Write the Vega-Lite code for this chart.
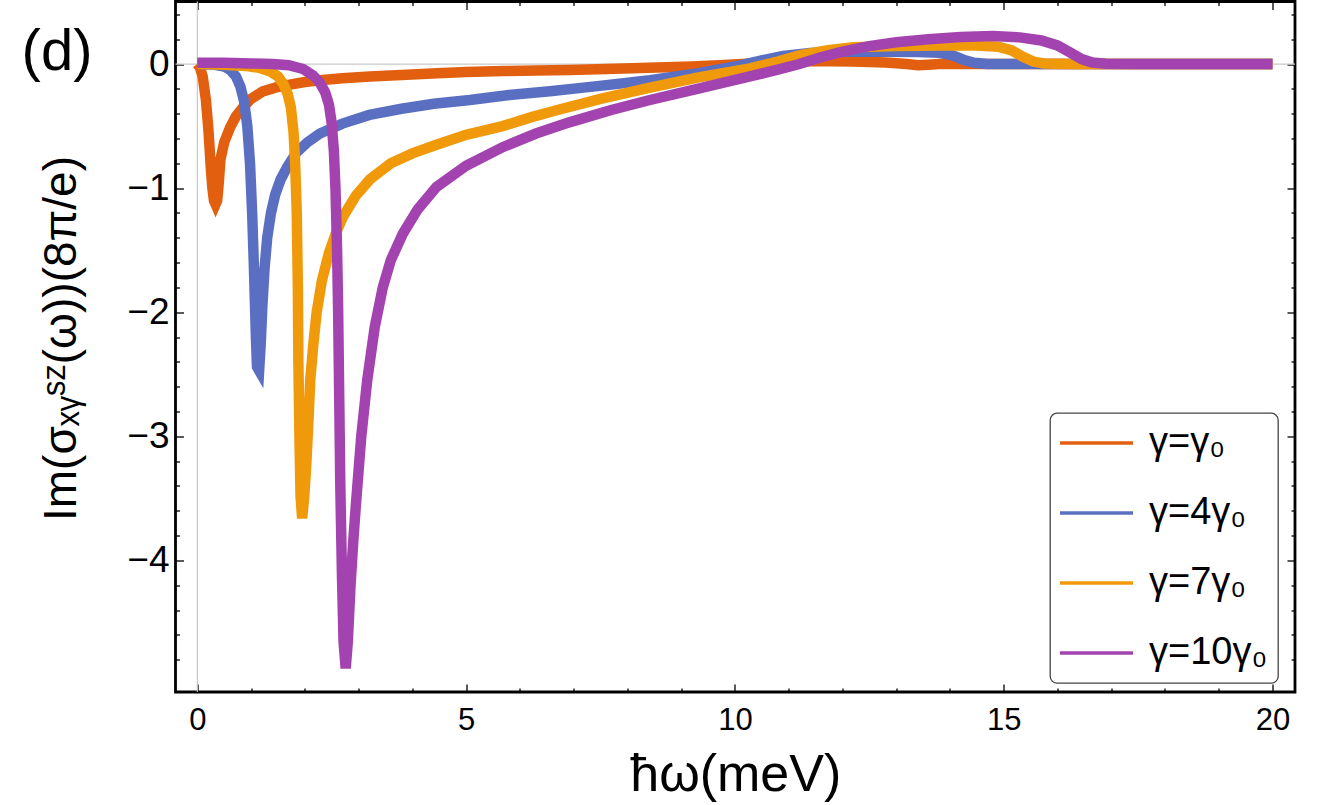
{
  "$schema": "https://vega.github.io/schema/vega-lite/v6.json",
  "width": 1119.5,
  "height": 690.5,
  "autosize": "none",
  "padding": {"left": 175.5, "top": 1.5, "right": 28, "bottom": 113},
  "datasets": {
    "curves": [
      {"s": "γ=γ₀", "x": 0, "y": 0},
      {"s": "γ=γ₀", "x": 0.05, "y": -0.03},
      {"s": "γ=γ₀", "x": 0.1, "y": -0.1},
      {"s": "γ=γ₀", "x": 0.16, "y": -0.29},
      {"s": "γ=γ₀", "x": 0.21, "y": -0.55},
      {"s": "γ=γ₀", "x": 0.25, "y": -0.83},
      {"s": "γ=γ₀", "x": 0.28, "y": -1.0},
      {"s": "γ=γ₀", "x": 0.31, "y": -1.1},
      {"s": "γ=γ₀", "x": 0.34, "y": -1.13},
      {"s": "γ=γ₀", "x": 0.37, "y": -1.1},
      {"s": "γ=γ₀", "x": 0.4, "y": -0.95},
      {"s": "γ=γ₀", "x": 0.43, "y": -0.77},
      {"s": "γ=γ₀", "x": 0.5, "y": -0.63},
      {"s": "γ=γ₀", "x": 0.61, "y": -0.51},
      {"s": "γ=γ₀", "x": 0.72, "y": -0.42},
      {"s": "γ=γ₀", "x": 0.85, "y": -0.35},
      {"s": "γ=γ₀", "x": 1.0, "y": -0.28},
      {"s": "γ=γ₀", "x": 1.22, "y": -0.22},
      {"s": "γ=γ₀", "x": 1.45, "y": -0.19},
      {"s": "γ=γ₀", "x": 1.67, "y": -0.17},
      {"s": "γ=γ₀", "x": 2.0, "y": -0.145},
      {"s": "γ=γ₀", "x": 2.28, "y": -0.13},
      {"s": "γ=γ₀", "x": 2.7, "y": -0.115},
      {"s": "γ=γ₀", "x": 3.21, "y": -0.1},
      {"s": "γ=γ₀", "x": 3.8, "y": -0.088},
      {"s": "γ=γ₀", "x": 4.46, "y": -0.075},
      {"s": "γ=γ₀", "x": 5.0, "y": -0.065},
      {"s": "γ=γ₀", "x": 5.69, "y": -0.056},
      {"s": "γ=γ₀", "x": 6.3, "y": -0.052},
      {"s": "γ=γ₀", "x": 6.93, "y": -0.048},
      {"s": "γ=γ₀", "x": 7.6, "y": -0.04},
      {"s": "γ=γ₀", "x": 8.4, "y": -0.03},
      {"s": "γ=γ₀", "x": 9.2, "y": -0.02},
      {"s": "γ=γ₀", "x": 9.8, "y": -0.008},
      {"s": "γ=γ₀", "x": 10.3, "y": 0.005},
      {"s": "γ=γ₀", "x": 10.9, "y": 0.02},
      {"s": "γ=γ₀", "x": 11.5, "y": 0.025},
      {"s": "γ=γ₀", "x": 12.2, "y": 0.02},
      {"s": "γ=γ₀", "x": 12.8, "y": 0.012},
      {"s": "γ=γ₀", "x": 13.2, "y": 0.0},
      {"s": "γ=γ₀", "x": 13.4, "y": -0.01},
      {"s": "γ=γ₀", "x": 13.6, "y": -0.005},
      {"s": "γ=γ₀", "x": 13.8, "y": 0.0},
      {"s": "γ=γ₀", "x": 14.5, "y": 0},
      {"s": "γ=γ₀", "x": 16, "y": 0},
      {"s": "γ=γ₀", "x": 18, "y": 0},
      {"s": "γ=γ₀", "x": 20, "y": 0},

      {"s": "γ=4γ₀", "x": 0, "y": 0},
      {"s": "γ=4γ₀", "x": 0.3, "y": -0.005},
      {"s": "γ=4γ₀", "x": 0.5, "y": -0.02},
      {"s": "γ=4γ₀", "x": 0.62, "y": -0.05},
      {"s": "γ=4γ₀", "x": 0.72, "y": -0.1},
      {"s": "γ=4γ₀", "x": 0.8, "y": -0.18},
      {"s": "γ=4γ₀", "x": 0.87, "y": -0.3},
      {"s": "γ=4γ₀", "x": 0.93, "y": -0.5},
      {"s": "γ=4γ₀", "x": 0.98, "y": -0.8},
      {"s": "γ=4γ₀", "x": 1.02, "y": -1.2},
      {"s": "γ=4γ₀", "x": 1.05, "y": -1.6},
      {"s": "γ=4γ₀", "x": 1.07, "y": -1.9},
      {"s": "γ=4γ₀", "x": 1.09, "y": -2.2},
      {"s": "γ=4γ₀", "x": 1.11, "y": -2.44},
      {"s": "γ=4γ₀", "x": 1.15, "y": -2.47},
      {"s": "γ=4γ₀", "x": 1.18, "y": -2.25},
      {"s": "γ=4γ₀", "x": 1.21, "y": -1.95},
      {"s": "γ=4γ₀", "x": 1.25, "y": -1.65},
      {"s": "γ=4γ₀", "x": 1.3, "y": -1.4},
      {"s": "γ=4γ₀", "x": 1.37, "y": -1.2},
      {"s": "γ=4γ₀", "x": 1.45, "y": -1.05},
      {"s": "γ=4γ₀", "x": 1.55, "y": -0.93},
      {"s": "γ=4γ₀", "x": 1.67, "y": -0.83},
      {"s": "γ=4γ₀", "x": 1.85, "y": -0.71},
      {"s": "γ=4γ₀", "x": 2.05, "y": -0.63},
      {"s": "γ=4γ₀", "x": 2.28, "y": -0.56},
      {"s": "γ=4γ₀", "x": 2.7, "y": -0.48},
      {"s": "γ=4γ₀", "x": 3.2, "y": -0.41},
      {"s": "γ=4γ₀", "x": 3.8, "y": -0.36},
      {"s": "γ=4γ₀", "x": 4.4, "y": -0.32},
      {"s": "γ=4γ₀", "x": 5.07, "y": -0.29},
      {"s": "γ=4γ₀", "x": 5.8, "y": -0.25},
      {"s": "γ=4γ₀", "x": 6.56, "y": -0.22},
      {"s": "γ=4γ₀", "x": 7.4, "y": -0.18},
      {"s": "γ=4γ₀", "x": 8.42, "y": -0.13},
      {"s": "γ=4γ₀", "x": 9.3, "y": -0.075},
      {"s": "γ=4γ₀", "x": 10.0, "y": -0.02},
      {"s": "γ=4γ₀", "x": 10.5, "y": 0.03},
      {"s": "γ=4γ₀", "x": 10.9, "y": 0.065},
      {"s": "γ=4γ₀", "x": 11.4, "y": 0.09},
      {"s": "γ=4γ₀", "x": 12.0, "y": 0.1},
      {"s": "γ=4γ₀", "x": 12.8, "y": 0.1},
      {"s": "γ=4γ₀", "x": 13.4, "y": 0.098},
      {"s": "γ=4γ₀", "x": 13.8, "y": 0.09},
      {"s": "γ=4γ₀", "x": 14.05, "y": 0.07},
      {"s": "γ=4γ₀", "x": 14.25, "y": 0.035},
      {"s": "γ=4γ₀", "x": 14.45, "y": 0.01},
      {"s": "γ=4γ₀", "x": 14.7, "y": 0.0},
      {"s": "γ=4γ₀", "x": 15.5, "y": 0},
      {"s": "γ=4γ₀", "x": 17, "y": 0},
      {"s": "γ=4γ₀", "x": 20, "y": 0},

      {"s": "γ=7γ₀", "x": 0, "y": 0},
      {"s": "γ=7γ₀", "x": 0.5, "y": -0.005},
      {"s": "γ=7γ₀", "x": 0.9, "y": -0.015},
      {"s": "γ=7γ₀", "x": 1.15, "y": -0.03},
      {"s": "γ=7γ₀", "x": 1.36, "y": -0.06},
      {"s": "γ=7γ₀", "x": 1.5, "y": -0.1},
      {"s": "γ=7γ₀", "x": 1.6, "y": -0.16},
      {"s": "γ=7γ₀", "x": 1.68, "y": -0.24},
      {"s": "γ=7γ₀", "x": 1.74, "y": -0.35},
      {"s": "γ=7γ₀", "x": 1.79, "y": -0.55},
      {"s": "γ=7γ₀", "x": 1.82, "y": -0.8},
      {"s": "γ=7γ₀", "x": 1.85, "y": -1.2},
      {"s": "γ=7γ₀", "x": 1.87, "y": -1.8},
      {"s": "γ=7γ₀", "x": 1.88, "y": -2.4},
      {"s": "γ=7γ₀", "x": 1.9, "y": -3.0},
      {"s": "γ=7γ₀", "x": 1.92, "y": -3.48},
      {"s": "γ=7γ₀", "x": 1.95, "y": -3.66},
      {"s": "γ=7γ₀", "x": 1.99, "y": -3.48},
      {"s": "γ=7γ₀", "x": 2.03, "y": -3.2},
      {"s": "γ=7γ₀", "x": 2.07, "y": -2.85},
      {"s": "γ=7γ₀", "x": 2.1, "y": -2.55},
      {"s": "γ=7γ₀", "x": 2.16, "y": -2.25},
      {"s": "γ=7γ₀", "x": 2.22, "y": -2.0},
      {"s": "γ=7γ₀", "x": 2.32, "y": -1.74},
      {"s": "γ=7γ₀", "x": 2.45, "y": -1.52},
      {"s": "γ=7γ₀", "x": 2.58, "y": -1.36},
      {"s": "γ=7γ₀", "x": 2.71, "y": -1.23},
      {"s": "γ=7γ₀", "x": 2.95, "y": -1.06},
      {"s": "γ=7γ₀", "x": 3.21, "y": -0.93},
      {"s": "γ=7γ₀", "x": 3.6, "y": -0.8},
      {"s": "γ=7γ₀", "x": 4.0, "y": -0.72},
      {"s": "γ=7γ₀", "x": 4.45, "y": -0.65},
      {"s": "γ=7γ₀", "x": 5.0, "y": -0.57},
      {"s": "γ=7γ₀", "x": 5.68, "y": -0.5},
      {"s": "γ=7γ₀", "x": 6.2, "y": -0.43},
      {"s": "γ=7γ₀", "x": 6.7, "y": -0.37},
      {"s": "γ=7γ₀", "x": 7.5, "y": -0.28},
      {"s": "γ=7γ₀", "x": 8.42, "y": -0.19},
      {"s": "γ=7γ₀", "x": 9.3, "y": -0.11},
      {"s": "γ=7γ₀", "x": 10.28, "y": -0.035},
      {"s": "γ=7γ₀", "x": 10.8, "y": 0.02},
      {"s": "γ=7γ₀", "x": 11.2, "y": 0.07},
      {"s": "γ=7γ₀", "x": 11.7, "y": 0.11},
      {"s": "γ=7γ₀", "x": 12.2, "y": 0.135},
      {"s": "γ=7γ₀", "x": 13.0, "y": 0.145},
      {"s": "γ=7γ₀", "x": 13.8, "y": 0.15},
      {"s": "γ=7γ₀", "x": 14.5, "y": 0.15},
      {"s": "γ=7γ₀", "x": 14.9, "y": 0.14},
      {"s": "γ=7γ₀", "x": 15.15, "y": 0.11},
      {"s": "γ=7γ₀", "x": 15.35, "y": 0.06},
      {"s": "γ=7γ₀", "x": 15.55, "y": 0.02},
      {"s": "γ=7γ₀", "x": 15.75, "y": 0.005},
      {"s": "γ=7γ₀", "x": 16.2, "y": 0},
      {"s": "γ=7γ₀", "x": 18, "y": 0},
      {"s": "γ=7γ₀", "x": 20, "y": 0},

      {"s": "γ=10γ₀", "x": 0, "y": 0.01},
      {"s": "γ=10γ₀", "x": 0.5, "y": 0.01},
      {"s": "γ=10γ₀", "x": 1.0, "y": 0.005},
      {"s": "γ=10γ₀", "x": 1.4, "y": 0.0},
      {"s": "γ=10γ₀", "x": 1.7, "y": -0.01},
      {"s": "γ=10γ₀", "x": 1.97, "y": -0.04},
      {"s": "γ=10γ₀", "x": 2.15, "y": -0.09},
      {"s": "γ=10γ₀", "x": 2.28, "y": -0.15},
      {"s": "γ=10γ₀", "x": 2.38, "y": -0.23},
      {"s": "γ=10γ₀", "x": 2.45, "y": -0.33},
      {"s": "γ=10γ₀", "x": 2.5, "y": -0.48},
      {"s": "γ=10γ₀", "x": 2.54, "y": -0.7},
      {"s": "γ=10γ₀", "x": 2.57, "y": -1.0},
      {"s": "γ=10γ₀", "x": 2.6, "y": -1.5},
      {"s": "γ=10γ₀", "x": 2.62, "y": -2.0},
      {"s": "γ=10γ₀", "x": 2.64, "y": -2.7},
      {"s": "γ=10γ₀", "x": 2.66, "y": -3.4},
      {"s": "γ=10γ₀", "x": 2.69, "y": -4.1},
      {"s": "γ=10γ₀", "x": 2.72, "y": -4.65},
      {"s": "γ=10γ₀", "x": 2.76, "y": -4.87},
      {"s": "γ=10γ₀", "x": 2.8, "y": -4.65},
      {"s": "γ=10γ₀", "x": 2.85, "y": -4.2},
      {"s": "γ=10γ₀", "x": 2.9, "y": -3.85},
      {"s": "γ=10γ₀", "x": 2.95, "y": -3.55},
      {"s": "γ=10γ₀", "x": 3.05, "y": -3.0},
      {"s": "γ=10γ₀", "x": 3.16, "y": -2.55},
      {"s": "γ=10γ₀", "x": 3.3, "y": -2.12},
      {"s": "γ=10γ₀", "x": 3.45, "y": -1.8},
      {"s": "γ=10γ₀", "x": 3.6, "y": -1.58},
      {"s": "γ=10γ₀", "x": 3.82, "y": -1.37},
      {"s": "γ=10γ₀", "x": 4.1, "y": -1.17},
      {"s": "γ=10γ₀", "x": 4.45, "y": -0.99},
      {"s": "γ=10γ₀", "x": 5.0, "y": -0.82},
      {"s": "γ=10γ₀", "x": 5.68, "y": -0.67},
      {"s": "γ=10γ₀", "x": 6.3, "y": -0.56},
      {"s": "γ=10γ₀", "x": 6.92, "y": -0.47},
      {"s": "γ=10γ₀", "x": 7.7, "y": -0.37},
      {"s": "γ=10γ₀", "x": 8.42, "y": -0.29},
      {"s": "γ=10γ₀", "x": 9.3, "y": -0.2},
      {"s": "γ=10γ₀", "x": 10.28, "y": -0.1},
      {"s": "γ=10γ₀", "x": 10.8, "y": -0.045},
      {"s": "γ=10γ₀", "x": 11.2, "y": 0.0},
      {"s": "γ=10γ₀", "x": 11.6, "y": 0.055},
      {"s": "γ=10γ₀", "x": 12.0, "y": 0.1},
      {"s": "γ=10γ₀", "x": 12.5, "y": 0.145},
      {"s": "γ=10γ₀", "x": 13.0, "y": 0.175},
      {"s": "γ=10γ₀", "x": 13.6, "y": 0.2},
      {"s": "γ=10γ₀", "x": 14.2, "y": 0.218},
      {"s": "γ=10γ₀", "x": 14.8, "y": 0.225},
      {"s": "γ=10γ₀", "x": 15.3, "y": 0.215},
      {"s": "γ=10γ₀", "x": 15.7, "y": 0.19},
      {"s": "γ=10γ₀", "x": 16.0, "y": 0.15},
      {"s": "γ=10γ₀", "x": 16.25, "y": 0.09},
      {"s": "γ=10γ₀", "x": 16.45, "y": 0.04},
      {"s": "γ=10γ₀", "x": 16.65, "y": 0.012},
      {"s": "γ=10γ₀", "x": 16.9, "y": 0.003},
      {"s": "γ=10γ₀", "x": 17.5, "y": 0},
      {"s": "γ=10γ₀", "x": 20, "y": 0}
    ]
  },
  "layer": [
    {
      "data": {"values": [{}]},
      "mark": {"type": "rule", "color": "#c8c8c8", "strokeWidth": 1.2},
      "encoding": {
        "x": {
          "datum": 0,
          "type": "quantitative",
          "scale": {"domain": [-0.406, 20.42], "nice": false, "zero": false},
          "axis": {
            "orient": "top",
            "values": [0, 1, 2, 3, 4, 5, 6, 7, 8, 9, 10, 11, 12, 13, 14, 15, 16, 17, 18, 19, 20],
            "domain": false,
            "grid": false,
            "labels": false,
            "title": null,
            "tickColor": "black",
            "tickWidth": 1.3,
            "tickSize": {"condition": {"test": "datum.value % 5 === 0", "value": -8}, "value": -4}
          }
        }
      }
    },
    {
      "data": {"values": [{}]},
      "mark": {"type": "rule", "color": "#c8c8c8", "strokeWidth": 1.2},
      "encoding": {
        "y": {
          "datum": 0,
          "type": "quantitative",
          "scale": {"domain": [-5.06, 0.504], "nice": false, "zero": false},
          "axis": {
            "orient": "right",
            "values": [-4.8, -4.6, -4.4, -4.2, -4, -3.8, -3.6, -3.4, -3.2, -3, -2.8, -2.6, -2.4, -2.2, -2, -1.8, -1.6, -1.4, -1.2, -1, -0.8, -0.6, -0.4, -0.2, 0, 0.2, 0.4],
            "domain": false,
            "grid": false,
            "labels": false,
            "title": null,
            "tickColor": "black",
            "tickWidth": 1.3,
            "tickSize": {"condition": {"test": "abs(datum.value - round(datum.value)) < 0.001", "value": -8}, "value": -4}
          }
        }
      }
    },
    {
      "data": {"name": "curves"},
      "mark": {"type": "line", "strokeWidth": 10.5, "strokeCap": "butt", "clip": true},
      "encoding": {
        "x": {
          "field": "x",
          "type": "quantitative",
          "scale": {"domain": [-0.406, 20.42], "nice": false, "zero": false},
          "axis": {
            "orient": "bottom",
            "values": [0, 1, 2, 3, 4, 5, 6, 7, 8, 9, 10, 11, 12, 13, 14, 15, 16, 17, 18, 19, 20],
            "domain": false,
            "grid": false,
            "tickColor": "black",
            "tickWidth": 1.3,
            "tickSize": {"condition": {"test": "datum.value % 5 === 0", "value": -8}, "value": -4},
            "labelExpr": "datum.value % 5 === 0 ? datum.label : ''",
            "labelFont": "Liberation Sans",
            "labelFontSize": 31,
            "labelColor": "black",
            "labelPadding": 21,
            "labelFlush": false,
            "labelOverlap": false,
            "title": "ħω(meV)",
            "titleFont": "Liberation Sans",
            "titleFontSize": 52,
            "titleFontWeight": "normal",
            "titleColor": "black",
            "titleBaseline": "alphabetic",
            "titleY": 98
          }
        },
        "y": {
          "field": "y",
          "type": "quantitative",
          "scale": {"domain": [-5.06, 0.504], "nice": false, "zero": false},
          "axis": {
            "orient": "left",
            "values": [-4.8, -4.6, -4.4, -4.2, -4, -3.8, -3.6, -3.4, -3.2, -3, -2.8, -2.6, -2.4, -2.2, -2, -1.8, -1.6, -1.4, -1.2, -1, -0.8, -0.6, -0.4, -0.2, 0, 0.2, 0.4],
            "format": ".0f",
            "domain": false,
            "grid": false,
            "tickColor": "black",
            "tickWidth": 1.3,
            "tickSize": {"condition": {"test": "abs(datum.value - round(datum.value)) < 0.001", "value": -8}, "value": -4},
            "labelOpacity": {"condition": {"test": "abs(datum.value - round(datum.value)) < 0.001", "value": 1}, "value": 0},
            "labelFont": "Liberation Sans",
            "labelFontSize": 37,
            "labelColor": "black",
            "labelPadding": 14.5,
            "labelFlush": false,
            "labelOverlap": false,
            "labelBound": false,
            "title": "Im(σₓᵧˢᶻ(ω))(8π/e)",
            "titleFont": "Liberation Sans",
            "titleFontSize": 46,
            "titleFontWeight": "normal",
            "titleColor": "black",
            "titleBaseline": "alphabetic",
            "titleAlign": "center",
            "titleAngle": 270,
            "titleX": -100.5,
            "titleY": 336.5
          }
        },
        "color": {
          "field": "s",
          "type": "nominal",
          "scale": {
            "domain": ["γ=γ₀", "γ=4γ₀", "γ=7γ₀", "γ=10γ₀"],
            "range": ["#E25F10", "#5B6FC2", "#F09A0B", "#A343AF"]
          },
          "legend": {
            "orient": "none",
            "legendX": 874.5,
            "legendY": 411.5,
            "title": null,
            "symbolType": "stroke",
            "symbolSize": 5625,
            "symbolStrokeWidth": 3.5,
            "symbolOffset": -4,
            "labelFont": "Liberation Sans",
            "labelFontSize": 38,
            "labelColor": "black",
            "labelOffset": 14,
            "clipHeight": 40,
            "rowPadding": 30,
            "padding": 10,
            "strokeColor": "#444444",
            "fillColor": "white",
            "cornerRadius": 7
          }
        }
      }
    },
    {
      "data": {"values": [{"label": "(d)", "x": -2.61, "y": -0.05}]},
      "mark": {
        "type": "text",
        "align": "center",
        "baseline": "alphabetic",
        "font": "Liberation Sans",
        "fontSize": 58,
        "color": "black",
        "clip": false
      },
      "encoding": {
        "x": {"field": "x", "type": "quantitative", "axis": null},
        "y": {"field": "y", "type": "quantitative", "axis": null},
        "text": {"field": "label"}
      }
    }
  ],
  "resolve": {"axis": {"x": "independent", "y": "independent"}},
  "config": {
    "view": {"stroke": "black", "strokeWidth": 2.8},
    "legend": {"strokeWidth": 1.3}
  }
}
